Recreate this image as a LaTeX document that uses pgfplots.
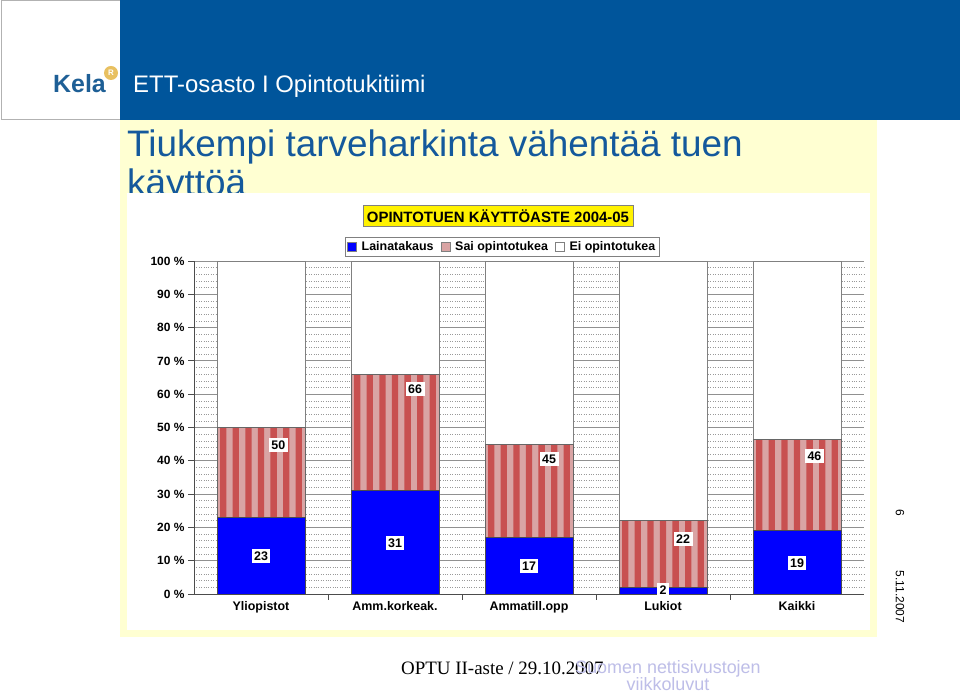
\documentclass[border=0pt]{standalone}
\usepackage{fontspec}
\setmainfont{Liberation Sans}
\newfontfamily\timesfont{Liberation Serif}
\usepackage{pgfplots}
\usepackage{pgfplotstable}
\pgfplotsset{compat=1.18}

\definecolor{kelablue}{HTML}{00559B}
\definecolor{kelatext}{HTML}{1E5F96}
\definecolor{titleblue}{HTML}{14599C}
\definecolor{paleyellow}{HTML}{FFFFD2}
\definecolor{gold}{HTML}{E8C060}
\definecolor{stripedark}{HTML}{C85050}
\definecolor{stripelight}{HTML}{D9A4A4}
\definecolor{lav}{HTML}{BEBEE8}
\definecolor{gridgray}{HTML}{909090}

% x: category, laina = Lainatakaus, sai = Sai opintotukea (excl. laina), ei = Ei opintotukea, total = laina+sai
\pgfplotstableread{
x laina sai  ei   total
0 23    27   50   50
1 31    35   34   66
2 17    28   55   45
3 2     20   78   22
4 19    27.5 53.5 46.5
}\kaytto

\newcommand{\fs}[1]{\fontsize{#1}{#1}\selectfont}

\begin{document}
\begin{tikzpicture}[x=1bp,y=1bp]
\useasboundingbox (0,0) rectangle (960,698);
\fill[white] (0,0) rectangle (960,698);

% header
\draw[gray!60, line width=1bp] (1,578) rectangle (120,697);
\fill[kelablue] (120,578) rectangle (960,698);
\node[anchor=base west, text=white, font=\fs{24}, inner sep=0] at (133,605) {ETT-osasto I Opintotukitiimi};
\node[anchor=base east, text=kelatext, font=\bfseries\fs{25}, inner sep=0] at (106,605) {Kela};
\node[circle, fill=gold, text=white, inner sep=1bp, minimum size=14bp, font=\bfseries\fs{8}] at (111,625) {R};

% slide body
\fill[paleyellow] (120,61) rectangle (877,578);
\node[anchor=base west, text=titleblue, font=\fs{37}, inner sep=0] at (127,541) {Tiukempi tarveharkinta vähentää tuen};
\node[anchor=base west, text=titleblue, font=\fs{37}, inner sep=0] at (127,502) {käyttöä};
\fill[white] (127,68) rectangle (870,505);

\node[fill=yellow, draw=gray, line width=0.8bp, font=\bfseries\fs{15}, inner sep=4bp] at (498,482) {OPINTOTUEN KÄYTTÖASTE 2004-05};

\pgfplotsset{slide axis/.style={
    at={(194bp,104bp)}, anchor=south west,
    scale only axis, width=670bp, height=333bp,
    xmin=-0.5, xmax=4.5, ymin=0, ymax=100}}

\begin{axis}[
    slide axis,
    ybar stacked, bar width=88bp,
    axis x line*=bottom, axis y line*=left,
    axis line style={black!70, line width=0.8bp},
    /pgf/number format/assume math mode=true,
    ytick={0,10,...,100},
    yticklabel={\pgfmathprintnumber{\tick}~\%},
    yticklabel style={font=\bfseries\fs{12}},
    major tick length=6bp, tick align=outside,
    tick style={black!70, line width=0.8bp},
    minor y tick num=4, minor tick length=0bp,
    ymajorgrids, yminorgrids,
    major grid style={gridgray, line width=0.8bp},
    minor grid style={dotted, gray!80, line width=0.6bp},
    xtick={0.5,1.5,2.5,3.5},
    xticklabels={},
    extra x ticks={0,1,2,3,4},
    extra x tick labels={Yliopistot, Amm.korkeak., Ammatill.opp, Lukiot, Kaikki},
    extra x tick style={major tick length=0bp,
        xticklabel style={font=\bfseries\fs{12.5}, yshift=-4bp}},
    legend style={at={(0.46,1)}, anchor=south, yshift=5bp, draw=gray,
        font=\bfseries\fs{12.5}, inner sep=2bp, legend columns=3,
        /tikz/every odd column/.append style={column sep=3bp},
        /tikz/every even column/.append style={column sep=5bp}},
]
\addplot[fill=blue, draw=black!70, line width=0.6bp,
    legend image code/.code={\fill[blue, draw=gray] (0bp,-4.5bp) rectangle (9bp,4.5bp);}]
    table[x=x, y=laina] {\kaytto};
\addlegendentry{Lainatakaus}
\addplot[fill=stripelight, draw=black!60, line width=0.6bp,
    legend image code/.code={\fill[stripelight, draw=gray] (0bp,-4.5bp) rectangle (9bp,4.5bp);}]
    table[x=x, y=sai] {\kaytto};
\addlegendentry{Sai opintotukea}
\addplot[fill=white, draw=gray, line width=0.6bp,
    legend image code/.code={\fill[white, draw=gray] (0bp,-4.5bp) rectangle (9bp,4.5bp);}]
    table[x=x, y=ei] {\kaytto};
\addlegendentry{Ei opintotukea}
\end{axis}

% dark stripes over the "Sai opintotukea" segment, blue segment redrawn on top, data labels
\begin{axis}[
    slide axis,
    hide axis, clip=false,
]
\pgfplotsinvokeforeach{-37.8,-25.2,-12.6,0,12.6,25.2,37.8}{
  \addplot[ybar, bar width=6.3bp, bar shift=#1bp, fill=stripedark, draw=none]
      table[x=x, y=total] {\kaytto};
}
\addplot[ybar, bar width=88bp, bar shift=0bp, fill=none, draw=black!60, line width=0.6bp]
    table[x=x, y=total] {\kaytto};
\addplot[ybar, bar width=88bp, bar shift=0bp, fill=blue, draw=black!70, line width=0.6bp]
    table[x=x, y=laina] {\kaytto};
\addplot[draw=none, nodes near coords, point meta=explicit symbolic,
    nodes near coords style={fill=white, text=black, font=\bfseries\fs{12.5}, inner sep=2.5bp, anchor=center}]
    coordinates {(0,11.4)[23] (1,15.3)[31] (2,8.4)[17] (3,1.2)[2] (4,9.3)[19]};
\addplot[draw=none, nodes near coords, point meta=explicit symbolic,
    nodes near coords style={fill=white, text=black, font=\bfseries\fs{12.5}, inner sep=2.5bp, anchor=center}]
    coordinates {(0.13,44.7)[50] (1.15,61.5)[66] (2.15,40.5)[45] (3.15,16.5)[22] (4.13,41.4)[46]};
\end{axis}

% side and footer texts
\node[rotate=-90, font=\fs{12}] at (900,185) {6};
\node[rotate=-90, font=\fs{12}] at (900,101) {5.11.2007};
\node[anchor=base west, font=\timesfont\fs{19}, inner sep=0] at (401,23) {OPTU II-aste / 29.10.2007};
\node[anchor=base, text=lav, font=\fs{18}, inner sep=0] at (668,24) {Suomen nettisivustojen};
\node[anchor=base, text=lav, font=\fs{18}, inner sep=0] at (668,7) {viikkoluvut};
\end{tikzpicture}
\end{document}
